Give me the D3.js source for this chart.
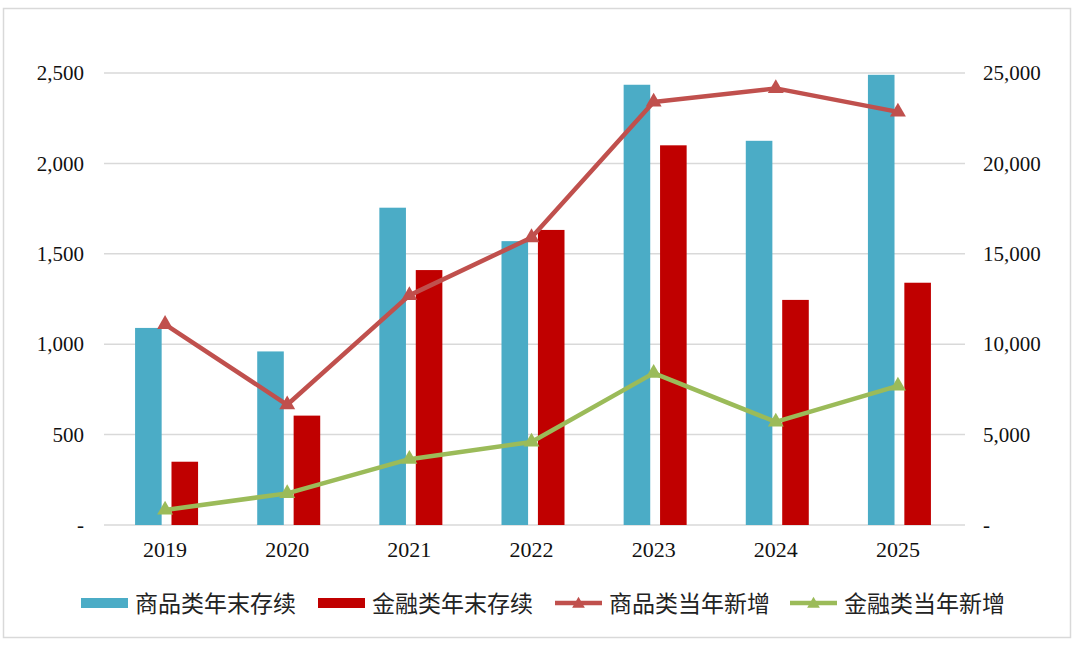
<!DOCTYPE html>
<html>
<head>
<meta charset="utf-8">
<script src="https://cdn.jsdelivr.net/npm/d3@7"></script>
<style>
  body { margin: 0; background: #fff; }
  svg { display: block; }
</style>
</head>
<body>
<svg id="chart" width="1080" height="645"></svg>
<script>
// data
const years = ['2019', '2020', '2021', '2022', '2023', '2024', '2025'];
const goodsStock = [1090, 960, 1755, 1570, 2435, 2125, 2490];
const financeStock = [350, 605, 1410, 1632, 2100, 1245, 1340];
const goodsNew = [11100, 6650, 12700, 15900, 23400, 24150, 22850];
const financeNew = [830, 1750, 3640, 4590, 8400, 5700, 7690];
const leftTicks = [0, 500, 1000, 1500, 2000, 2500];
const rightTicks = [0, 5000, 10000, 15000, 20000, 25000];
const seriesNames = ['商品类年末存续', '金融类年末存续', '商品类当年新增', '金融类当年新增'];

const colors = ['#4BACC6', '#C00000', '#C0504D', '#9BBB59'];
const svg = d3.select('#chart');
const plot = {left: 104, right: 959, top: 73, bottom: 525};
const serif = '"Liberation Serif", "Times New Roman", serif';
const cjk = '"Noto Sans CJK SC", "Noto Sans", sans-serif';
const tickSize = 21;

// outer frame
svg.append('rect')
    .attr('x', 3.5).attr('y', 8.5)
    .attr('width', 1067).attr('height', 629)
    .attr('fill', '#fff')
    .attr('stroke', '#d9d9d9')
    .attr('stroke-width', 1.5);

const x0 = d3.scaleBand()
    .domain(years)
    .range([plot.left, plot.right]);

const x1 = d3.scaleBand()
    .domain([0, 1])
    .range([-30, 33])
    .paddingInner(0.27);

const yL = d3.scaleLinear().domain([0, 2500]).range([plot.bottom, plot.top]);
const yR = d3.scaleLinear().domain([0, 25000]).range([plot.bottom, plot.top]);

const fmt = v => v === 0 ? '-' : d3.format(',')(v);

// gridlines
svg.append('g')
    .selectAll('line')
    .data(leftTicks)
    .enter().append('line')
    .attr('x1', plot.left).attr('x2', plot.right + 6)
    .attr('y1', d => yL(d)).attr('y2', d => yL(d))
    .attr('stroke', '#d9d9d9')
    .attr('stroke-width', 1.5);

// left axis
const axL = svg.append('g')
    .attr('transform', `translate(${plot.left},0)`)
    .call(d3.axisLeft(yL).tickValues(leftTicks).tickFormat(fmt).tickSize(0).tickPadding(20));
axL.select('.domain').remove();
axL.selectAll('text')
    .attr('font-family', serif)
    .attr('font-size', tickSize)
    .attr('fill', '#111');

// right axis
const axR = svg.append('g')
    .attr('transform', `translate(${plot.right},0)`)
    .call(d3.axisRight(yR).tickValues(rightTicks).tickFormat(fmt).tickSize(0).tickPadding(24));
axR.select('.domain').remove();
axR.selectAll('text')
    .attr('font-family', serif)
    .attr('font-size', tickSize)
    .attr('fill', '#111');

// bottom axis
const axB = svg.append('g')
    .attr('transform', `translate(0,${plot.bottom})`)
    .call(d3.axisBottom(x0).tickSize(0).tickPadding(16));
axB.select('.domain').remove();
axB.selectAll('text')
    .attr('font-family', serif)
    .attr('font-size', tickSize + 1)
    .attr('fill', '#111');

// bars
const barData = years.map((y, i) => ({year: y, vals: [goodsStock[i], financeStock[i]]}));
svg.append('g')
    .selectAll('g')
    .data(barData)
    .enter().append('g')
    .attr('transform', d => `translate(${x0(d.year) + x0.bandwidth() / 2},0)`)
    .selectAll('rect')
    .data(d => d.vals.map((v, k) => ({k: k, v: v})))
    .enter().append('rect')
    .attr('x', d => x1(d.k))
    .attr('y', d => yL(d.v))
    .attr('width', x1.bandwidth())
    .attr('height', d => plot.bottom - yL(d.v))
    .attr('fill', d => colors[d.k]);

// lines
const cx = y => x0(y) + x0.bandwidth() / 2;
const tri = d3.symbol().type(d3.symbolTriangle).size(110);
[[goodsNew, colors[2]], [financeNew, colors[3]]].forEach(([vals, c]) => {
    const pts = years.map((y, i) => [cx(y), yR(vals[i])]);
    svg.append('path')
        .attr('d', d3.line()(pts))
        .attr('fill', 'none')
        .attr('stroke', c)
        .attr('stroke-width', 4.5)
        .attr('stroke-linejoin', 'round');
    svg.append('g')
        .selectAll('path')
        .data(pts)
        .enter().append('path')
        .attr('d', tri)
        .attr('transform', d => `translate(${d[0]},${d[1]})`)
        .attr('fill', c);
});

// legend
const legendX = [81, 318, 555, 790];
const legendY = 603;
const lg = svg.append('g')
    .selectAll('g')
    .data(seriesNames)
    .enter().append('g')
    .attr('transform', (d, i) => `translate(${legendX[i]},${legendY})`);

lg.each(function (d, i) {
    const g = d3.select(this);
    if (i < 2) {
        g.append('rect')
            .attr('x', 0).attr('y', -5)
            .attr('width', 47).attr('height', 10)
            .attr('fill', colors[i]);
    } else {
        g.append('line')
            .attr('x1', 0).attr('x2', 47)
            .attr('y1', 0).attr('y2', 0)
            .attr('stroke', colors[i])
            .attr('stroke-width', 4.5);
        g.append('path')
            .attr('d', d3.symbol().type(d3.symbolTriangle).size(70))
            .attr('transform', 'translate(23.5,1)')
            .attr('fill', colors[i]);
    }
    g.append('text')
        .attr('x', 54)
        .attr('y', 1)
        .attr('dy', '0.36em')
        .attr('font-family', cjk)
        .attr('font-size', 23)
        .attr('fill', '#222')
        .text(d);
});
</script>
</body>
</html>
